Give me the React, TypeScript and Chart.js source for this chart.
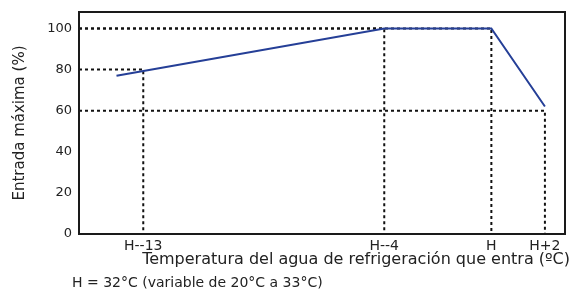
import React, { useEffect, useRef } from "react";
import { Chart, registerables } from "chart.js";

Chart.register(...registerables);

// Data
const xTickValues = [-13, -4, 0, 2];
const xTickLabels = ["H--13", "H--4", "H", "H+2"];
const seriesX = [-14, -4, 0, 2];
const seriesY = [77, 100, 100, 62];
const guideX = [-13, -4, 0, 2];
const guideY = [80, 100, 100, 60];
const yTickValues = [0, 20, 40, 60, 80, 100];

const xTitle = "Temperatura del agua de refrigeración que entra (ºC)";
const yTitle = "Entrada máxima (%)";
const footnote = "H = 32°C (variable de 20°C a 33°C)";

const X_MIN = -15.4;
const X_MAX = 2.75;
const Y_MAX = 108;

const FONT = "'DejaVu Sans', sans-serif";
const TEXT = "#222";

const framePlugin = {
  id: "frame",
  afterDraw(chart: any) {
    const { ctx, chartArea } = chart;
    ctx.save();
    ctx.strokeStyle = "#1a1a1a";
    ctx.lineWidth = 2;
    ctx.strokeRect(chartArea.left, chartArea.top, chartArea.right - chartArea.left, chartArea.bottom - chartArea.top);
    // x-axis title, right-aligned slightly beyond the plot frame as in the reference
    ctx.fillStyle = TEXT;
    ctx.font = `16px ${FONT}`;
    ctx.textAlign = "right";
    ctx.textBaseline = "middle";
    ctx.fillText(xTitle, chartArea.right + 5, chartArea.bottom + 26);
    ctx.restore();
  },
};

export default function App() {
  const ref = useRef<HTMLCanvasElement | null>(null);

  useEffect(() => {
    if (!ref.current) return;
    const guides = guideX.map((gx, i) => ({
      type: "line" as const,
      data: [
        { x: X_MIN, y: guideY[i] },
        { x: gx, y: guideY[i] },
        { x: gx, y: 0 },
      ],
      borderColor: "#111",
      borderWidth: 2,
      borderDash: [3, 3],
      pointRadius: 0,
      fill: false,
    }));
    const chart = new Chart(ref.current, {
      type: "line",
      data: {
        datasets: [
          {
            data: seriesX.map((x, i) => ({ x, y: seriesY[i] })),
            borderColor: "#253f97",
            borderWidth: 2,
            pointRadius: 0,
            fill: false,
          },
          ...guides,
        ],
      },
      options: {
        animation: false,
        responsive: false,
        maintainAspectRatio: false,
        layout: { padding: { top: 12, right: 8, left: 0, bottom: 33 } },
        plugins: { legend: { display: false }, tooltip: { enabled: false } },
        scales: {
          x: {
            type: "linear",
            min: X_MIN,
            max: X_MAX,
            grid: { display: false, drawTicks: false },
            border: { display: false },
            afterBuildTicks: (s: any) => {
              s.ticks = xTickValues.map((v) => ({ value: v }));
            },
            afterFit: (s: any) => {
              s.height = 40;
              s.paddingLeft = 0;
              s.paddingRight = 0;
            },
            ticks: {
              padding: 4,
              autoSkip: false,
              maxRotation: 0,
              color: TEXT,
              font: { family: FONT, size: 14 },
              callback: (v: any) => {
                const i = xTickValues.indexOf(Number(v));
                return i >= 0 ? xTickLabels[i] : "";
              },
            },
            title: { display: false },
          },
          y: {
            type: "linear",
            min: 0,
            max: Y_MAX,
            grid: { display: false, drawTicks: false },
            border: { display: false },
            afterBuildTicks: (s: any) => {
              s.ticks = yTickValues.map((v) => ({ value: v }));
            },
            afterFit: (s: any) => {
              s.width = 79;
              s.paddingTop = 0;
              s.paddingBottom = 0;
            },
            ticks: {
              padding: 7,
              color: TEXT,
              font: { family: FONT, size: 13 },
            },
            title: {
              display: true,
              text: yTitle,
              color: TEXT,
              font: { family: FONT, size: 15 },
              padding: { top: 11, bottom: 0 },
            },
          },
        },
      },
      plugins: [framePlugin],
    });
    return () => chart.destroy();
  }, []);

  return (
    <div style={{ position: "fixed", left: 0, top: 0, width: 573, height: 307, background: "#fff" }}>
      <canvas ref={ref} width={573} height={307} style={{ width: 573, height: 307, display: "block" }} />
      <div
        style={{
          position: "absolute",
          left: 72,
          top: 274,
          fontFamily: FONT,
          fontSize: 14,
          lineHeight: "16px",
          color: TEXT,
          whiteSpace: "nowrap",
        }}
      >
        {footnote}
      </div>
    </div>
  );
}
